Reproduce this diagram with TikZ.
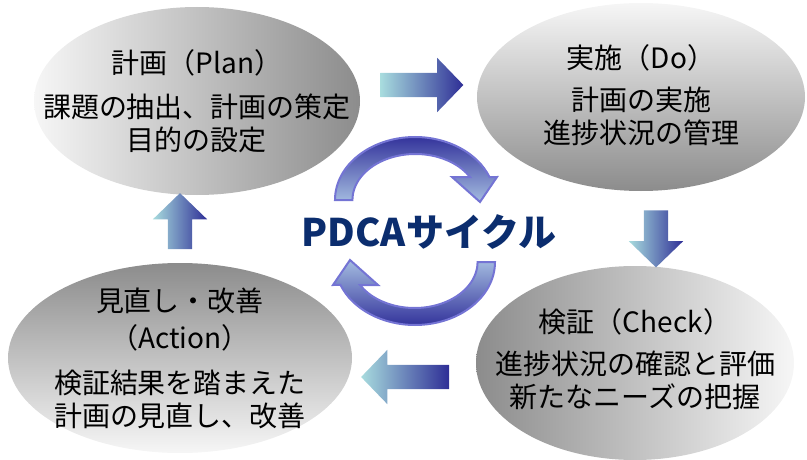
\documentclass[tikz,border=0pt]{standalone}
\usepackage{fontspec}
\setmainfont{Noto Sans CJK JP}
\usetikzlibrary{shapes.geometric,shapes.arrows}
\definecolor{navy}{HTML}{0B2D6E}
\definecolor{arrowdark}{HTML}{2E2E96}
\definecolor{arrowlight}{HTML}{A8DCDE}
\definecolor{ringedge}{HTML}{7474D4}
\definecolor{ringdark}{HTML}{34349C}
\definecolor{ringlight}{HTML}{A4BCE0}
\definecolor{graydark}{HTML}{8C8C8C}
\definecolor{graylight}{HTML}{F6F6F6}

\begin{document}
\begin{tikzpicture}[x=1pt,y=-1pt,
  phase/.style={ellipse, inner sep=0pt},
  phasetext/.style={align=center, inner sep=0pt, font=\fontsize{28}{33}\selectfont},
  blockarrow/.style={single arrow, inner xsep=0pt, inner ysep=12pt,
    single arrow head extend=15pt, single arrow tip angle=92,
    single arrow head indent=0pt, left color=arrowlight, right color=arrowdark},
  ring/.style={draw=ringedge, line width=2pt}]
\useasboundingbox (0,0) rectangle (807,460);
% the four phases
\node[phase, minimum width=326pt, minimum height=188pt, left color=graylight, right color=graydark] (plan) at (197,101) {};
\node[phase, minimum width=328pt, minimum height=188pt, top color=graylight, bottom color=graydark] (do) at (641,97) {};
\node[phase, minimum width=318pt, minimum height=194pt, left color=graydark, right color=graylight] (check) at (635,363) {};
\node[phase, minimum width=344pt, minimum height=190pt, top color=graydark, bottom color=graylight] (act) at (180,358) {};
\node[phasetext] (plan-txt) at (plan.center) {計画（Plan）\\[11pt]課題の抽出、計画の策定\\目的の設定};
\node[phasetext] (do-txt) at ([yshift=2pt]do.center) {実施（Do）\\[9pt]計画の実施\\進捗状況の管理};
\node[phasetext] (check-txt) at ([yshift=4pt]check.center) {検証（Check）\\[9pt]進捗状況の確認と評価\\新たなニーズの把握};
\node[phasetext] (act-txt) at (act.center) {見直し・改善\\[4pt]（Action）\\[12pt]検証結果を踏まえた\\計画の見直し、改善};
% block arrows
\node[blockarrow, minimum height=83pt] (p2d) at (416,85) {};
\node[blockarrow, minimum height=57pt, rotate=-90] (d2c) at (656,233) {};
\node[blockarrow, minimum height=88pt, rotate=180] (c2a) at (411,377) {};
\node[blockarrow, minimum height=56pt, rotate=90] (a2p) at (180,227) {};
% cycle in the middle
\shadedraw[ring, top color=ringdark, bottom color=ringlight] (335,200) arc[start angle=180, end angle=338.6, x radius=80, y radius=63] -- (497,177) -- (480,202) -- (452,177) -- (470,177) arc[start angle=330, end angle=180, x radius=63, y radius=46] -- cycle;
\shadedraw[ring, top color=ringlight, bottom color=ringdark] (495,262) arc[start angle=0, end angle=158.6, x radius=80, y radius=63] -- (333,285) -- (350,260) -- (378,285) -- (360,285) arc[start angle=150, end angle=0, x radius=63, y radius=46] -- cycle;
\node[text=navy, font=\fontsize{38}{40}\selectfont\bfseries] (pdca) at (429,232) {PDCAサイクル};
\end{tikzpicture}
\end{document}
